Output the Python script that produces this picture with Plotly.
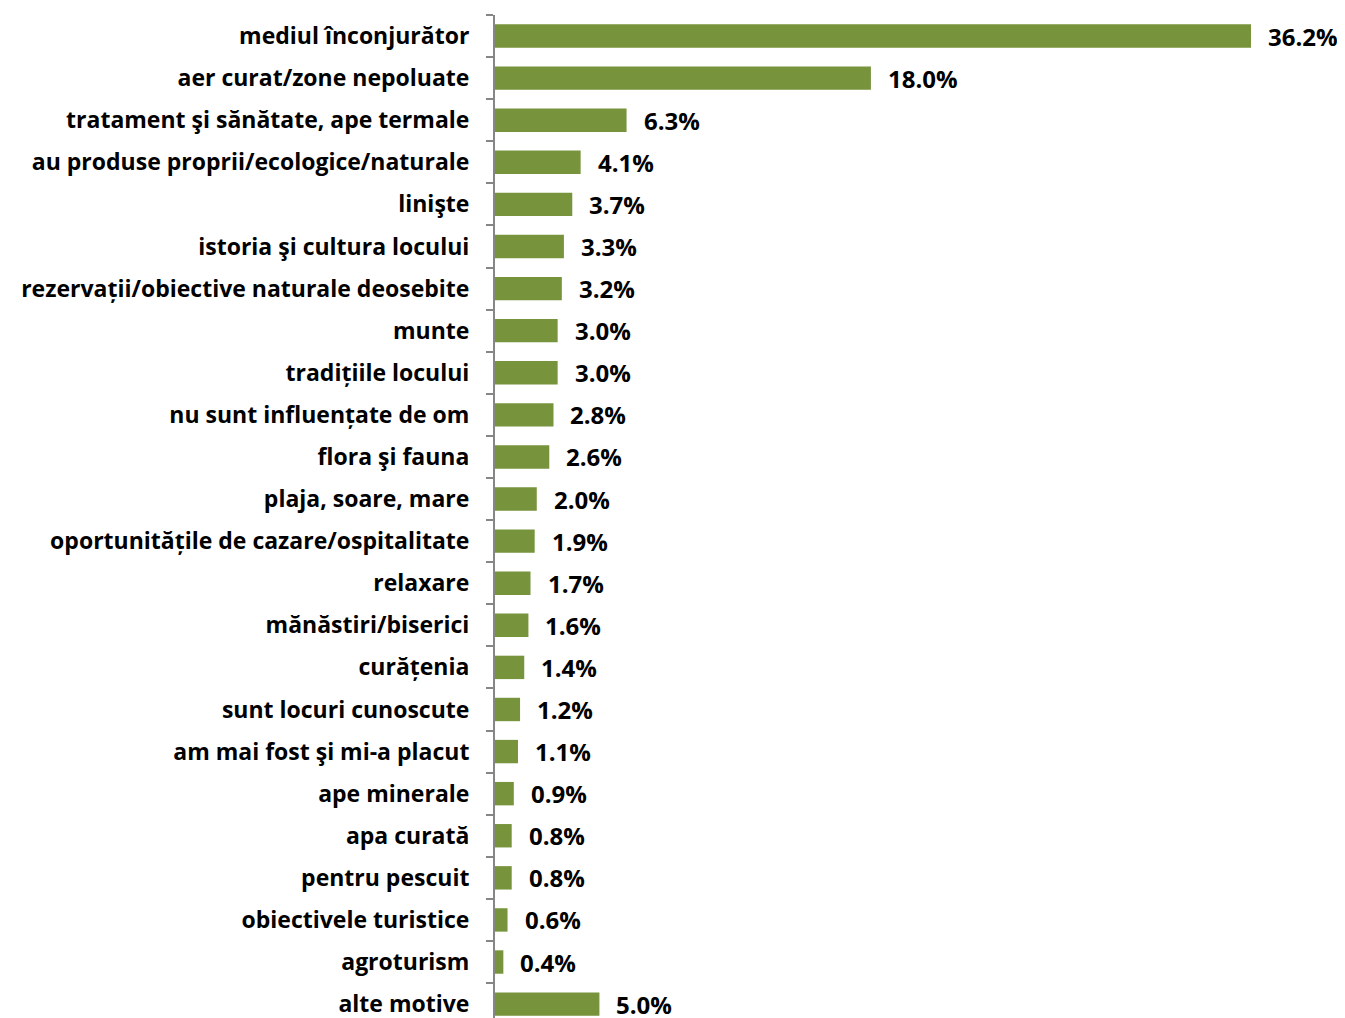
import plotly.graph_objects as go

categories = [
    "mediul înconjurător",
    "aer curat/zone nepoluate",
    "tratament şi sănătate, ape termale",
    "au produse proprii/ecologice/naturale",
    "linişte",
    "istoria şi cultura locului",
    "rezervații/obiective naturale deosebite",
    "munte",
    "tradițiile locului",
    "nu sunt influențate de om",
    "flora şi fauna",
    "plaja, soare, mare",
    "oportunitățile de cazare/ospitalitate",
    "relaxare",
    "mănăstiri/biserici",
    "curățenia",
    "sunt locuri cunoscute",
    "am mai fost şi mi-a placut",
    "ape minerale",
    "apa curată",
    "pentru pescuit",
    "obiectivele turistice",
    "agroturism",
    "alte motive",
]
values = [36.2, 18.0, 6.3, 4.1, 3.7, 3.3, 3.2, 3.0, 3.0, 2.8, 2.6, 2.0, 1.9,
          1.7, 1.6, 1.4, 1.2, 1.1, 0.9, 0.8, 0.8, 0.6, 0.4, 5.0]

FONT = "Open Sans"
GREEN = "#77933C"

fig = go.Figure()
fig.add_trace(go.Bar(
    y=categories, x=values, orientation="h",
    marker=dict(color=GREEN, line=dict(width=0)),
    hoverinfo="skip",
))

for cat, v in zip(categories, values):
    fig.add_annotation(
        x=v, y=cat, text=f"<b>{v:.1f}%</b>", showarrow=False,
        xanchor="left", xshift=15,
        font=dict(family=FONT, size=24, color="black"),
    )

# the page body adds an 8px margin, so the figure is a bit smaller
fig.update_layout(
    width=1337, height=1010,
    margin=dict(l=487, r=0, t=7, b=0),
    paper_bgcolor="white", plot_bgcolor="white",
    bargap=0.444, showlegend=False,
)
fig.update_xaxes(range=[0, 40.7], visible=False, fixedrange=True)
fig.update_yaxes(
    type="category", categoryorder="array", categoryarray=categories,
    range=[23.33, -0.5],
    showline=True, linecolor="#868686", linewidth=2,
    ticks="outside", tickson="boundaries", ticklen=7, tickcolor="#868686", tickwidth=2,
    tickfont=dict(family=FONT, size=23, color="black", weight="bold"),
    ticklabelstandoff=19, showgrid=False, zeroline=False,
)

fig.write_html("out.html")
